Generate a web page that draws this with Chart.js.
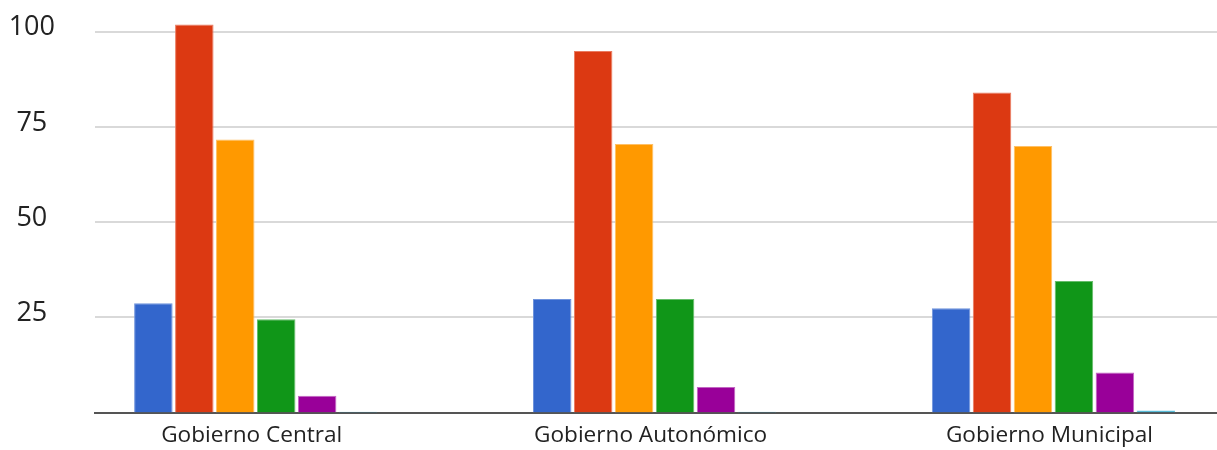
<!DOCTYPE html>
<html>
<head>
<meta charset="utf-8">
<script src="https://cdn.jsdelivr.net/npm/chart.js@4"></script>
<style>
  html, body { margin: 0; padding: 0; background: #ffffff; }
  #wrap { width: 1217px; height: 450px; }
</style>
</head>
<body>
<div id="wrap"><canvas id="chart" width="1217" height="450"></canvas></div>
<script>
// Data
const categories = ['Gobierno Central', 'Gobierno Autonómico', 'Gobierno Municipal'];
const yTicks = [25, 50, 75, 100];

const serie1 = [28.7, 29.8, 27.4];   // blue
const serie2 = [101.9, 94.9, 84.0];  // red
const serie3 = [71.7, 70.5, 70.0];   // orange
const serie4 = [24.5, 29.8, 34.5];   // green
const serie5 = [4.4, 6.7, 10.5];     // purple
const serie6 = [0.2, 0.2, 0.5];      // cyan

// Styles
const chartStyles = {
    fontFamily: "'Open Sans', sans-serif",
    fontColor: '#222222',
    gridColor: '#d9d9d9',
    baseColor: '#555555',
    colors: ['#3366cc', '#dc3912', '#ff9900', '#109618', '#990099', '#0099c6'],
    borders: ['#6f93dc', '#ea7b60', '#ffc066', '#65bd6a', '#c266c2', '#66c2dd']
};

const seriesList = [serie1, serie2, serie3, serie4, serie5, serie6];

const datasets = seriesList.map((values, i) => ({
    label: 'Serie ' + (i + 1),
    data: values.map((v, j) => ({ x: j, y: v })),
    backgroundColor: chartStyles.colors[i],
    borderColor: chartStyles.borders[i],
    borderWidth: 1,
    categoryPercentage: 0.616,
    barPercentage: 0.94
}));

const config = {
    type: 'bar',
    data: { datasets: datasets },
    options: {
        responsive: false,
        animation: false,
        layout: { padding: 0 },
        plugins: {
            legend: { display: false },
            tooltip: { enabled: false }
        },
        scales: {
            x: {
                type: 'linear',
                offset: false, // keep the range exactly min..max
                min: -0.403,
                max: 2.41,
                grid: { display: false, drawTicks: false },
                border: { display: true, color: chartStyles.baseColor, width: 2 },
                afterBuildTicks: scale => {
                    scale.ticks = categories.map((c, i) => ({ value: i }));
                },
                afterFit: scale => {
                    scale.height = 37.5;
                    scale.paddingLeft = 0;
                    scale.paddingRight = 0;
                },
                ticks: {
                    autoSkip: false,
                    maxRotation: 0,
                    padding: 10,
                    labelOffset: -4,
                    color: chartStyles.fontColor,
                    font: { family: chartStyles.fontFamily, size: 22.6 },
                    callback: value => categories[value]
                }
            },
            y: {
                min: 0,
                max: 108.3,
                grid: {
                    color: chartStyles.gridColor,
                    lineWidth: 2,
                    drawTicks: false
                },
                border: { display: false },
                afterBuildTicks: scale => {
                    scale.ticks = yTicks.map(v => ({ value: v }));
                },
                afterFit: scale => {
                    scale.width = 95;
                    scale.paddingTop = 0;
                    scale.paddingBottom = 0;
                },
                ticks: {
                    crossAlign: 'center',
                    padding: 40,
                    labelOffset: -4,
                    color: chartStyles.fontColor,
                    font: { family: chartStyles.fontFamily, size: 27 }
                }
            }
        }
    }
};

new Chart(document.getElementById('chart'), config);
</script>
</body>
</html>
